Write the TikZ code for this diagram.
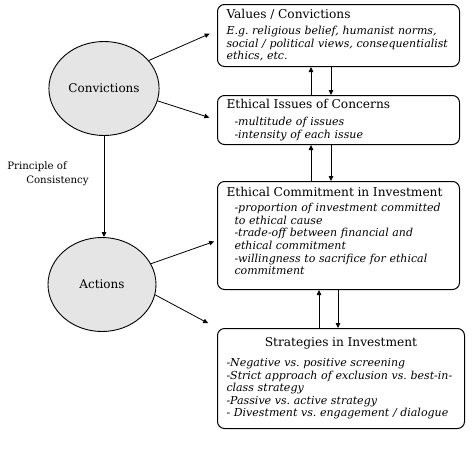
\documentclass[tikz,border=0pt]{standalone}
\usepackage{fontspec}
\setmainfont{DejaVu Serif}
\usetikzlibrary{arrows.meta,positioning,shapes.geometric}
\newcommand{\hd}[1]{{\upshape\fontsize{12.2}{13}\selectfont #1}}
\newcommand{\ind}{\hspace*{8pt}}
\frenchspacing

\begin{document}
\begin{tikzpicture}[
  x=1pt, y=-1pt,
  box/.style={draw, line width=1pt, rounded corners=7pt, align=left, anchor=north west,
    inner xsep=9pt, inner ysep=2pt, text width=224pt,
    font=\itshape\fontsize{11}{12.6}\selectfont},
  oval/.style={ellipse, draw, line width=0.9pt, fill=gray!20, minimum width=108pt,
    minimum height=94pt, font=\fontsize{12}{13}\selectfont},
  arr/.style={-{Triangle[length=5pt,width=4.5pt]}, line width=0.8pt},
  node distance=28pt
]
\useasboundingbox (0,0) rectangle (474,448);
% right column
\node[box, minimum height=62pt] (values) at (217,4)
  {\hd{Values / Convictions}\\[3pt]
   E.g. religious belief, humanist norms,\\
   social / political views, consequentialist\\
   ethics, etc.};
\node[box, minimum height=49pt, below=28pt of values.south west, anchor=north west] (issues)
  {\hd{Ethical Issues of Concerns}\\[5pt]
   \ind-multitude of issues\\
   \ind-intensity of each issue};
\node[box, minimum height=108pt, below=36pt of issues.south west, anchor=north west] (commit)
  {\hd{Ethical Commitment in Investment}\\[3pt]
   \ind-proportion of investment committed\\
   \ind to ethical cause\\
   \ind-trade-off between financial and\\
   \ind ethical commitment\\
   \ind-willingness to sacrifice for ethical\\
   \ind commitment\\[-3pt]\mbox{}};
\node[box, minimum height=100pt, text width=229pt, below=38pt of commit.south west, anchor=north west] (strat)
  {\makebox[\linewidth]{\hd{Strategies in Investment}}\\[7pt]
   -Negative vs. positive screening\\
   -Strict approach of exclusion vs. best-in-\\
   class strategy\\
   -Passive vs. active strategy\\
   - Divestment vs. engagement / dialogue};
% left column
\node[oval] (conv) at (104,88.5) {Convictions};
\node[oval] (act) at (102,284.5) {Actions};
\node[align=left, font=\fontsize{10.2}{14}\selectfont] (principle) at (48,174)
  {Principle of\\\hspace*{19pt}Consistency};
% connectors
\draw[arr] (conv.south) -- (conv.south |- act.north);
\draw[arr, shorten >=8pt] (conv.32) -- ([yshift=5pt]values.west);
\draw[arr, shorten >=8pt] (conv.-13) -- (issues.west);
\draw[arr, shorten >=3pt] (act.23) -- ([yshift=-5pt]commit.west);
\draw[arr, shorten >=10pt] (act.-11) -- (strat.north west);
\draw[arr] ([xshift=94pt]issues.north west) -- ([xshift=94pt]values.south west);
\draw[arr] ([xshift=114pt]values.south west) -- ([xshift=114pt]issues.north west);
\draw[arr] ([xshift=94pt]commit.north west) -- ([xshift=94pt]issues.south west);
\draw[arr] ([xshift=114pt]issues.south west) -- ([xshift=114pt]commit.north west);
\draw[arr] ([xshift=102pt]strat.north west) -- ([xshift=102pt]commit.south west);
\draw[arr] ([xshift=121pt]commit.south west) -- ([xshift=121pt]strat.north west);
\end{tikzpicture}
\end{document}
